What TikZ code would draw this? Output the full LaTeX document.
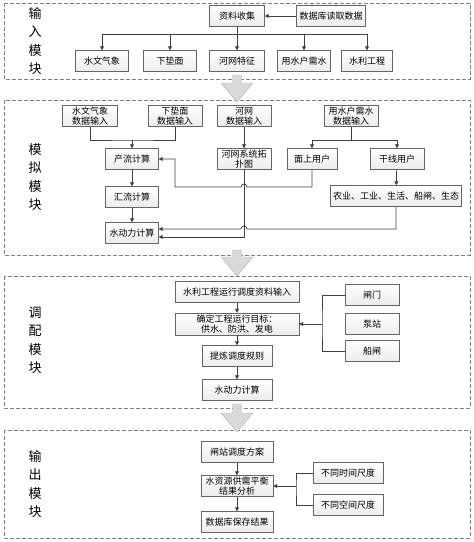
\documentclass[tikz,border=0pt]{standalone}
\usepackage{fontspec}
\setmainfont{Noto Sans CJK SC}
\usetikzlibrary{arrows.meta}
\usetikzlibrary{shadows}
\tikzset{>={Triangle[length=4pt,width=4pt]}}
\tikzset{box/.style={draw=gray!80!black, top color=white, bottom color=gray!15,
    drop shadow={shadow xshift=.8pt, shadow yshift=-.8pt, fill=gray!45},
    font=\fontsize{9}{10.5}\selectfont, align=center, inner sep=1pt, minimum height=21pt}}
\tikzset{part/.style={draw=gray, dash pattern=on 4pt off 2pt}}
\tikzset{link/.style={draw=gray!50!black, line width=.8pt}}
\tikzset{tag/.style={font=\fontsize{13}{18.5}\selectfont, align=center}}

\begin{document}
\begin{tikzpicture}[x=1pt, y=-1pt]
      \useasboundingbox (0,0) rectangle (474,542);
      % modules
      \draw[part] (4,3) rectangle (470,79);
      \draw[part] (4,100) rectangle (470,255);
      \draw[part] (4,276) rectangle (470,408);
      \draw[part] (4,430) rectangle (470,538);
      \node[tag] (inTag) at (35,41) {输\\入\\模\\块};
      \node[tag] (simTag) at (35,177) {模\\拟\\模\\块};
      \node[tag] (mixTag) at (35,340) {调\\配\\模\\块};
      \node[tag] (outTag) at (35,484) {输\\出\\模\\块};
      % big arrows
      \foreach \top/\tip in {75/102, 250/276, 404/432}
        \filldraw[draw=gray!60, fill=gray!30] (232.5,\top) -- (241.5,\top) -- (241.5,\tip-19)
          -- (253,\tip-19) -- (237,\tip) -- (221,\tip-19) -- (232.5,\tip-19) -- cycle;

      % input nodes
      \node[box, minimum width=55pt] (collect) at (237,16) {资料收集};
      \node[box, minimum width=69pt] (dbread) at (331,16) {数据库读取数据};
      \node[box, minimum width=53pt] (hydro) at (102,61) {水文气象};
      \node[box, minimum width=53pt] (surface) at (170,61) {下垫面};
      \node[box, minimum width=55pt] (river) at (237,61) {河网特征};
      \node[box, minimum width=53pt] (demand) at (304,61) {用水户需水};
      \node[box, minimum width=51pt] (project) at (367,61) {水利工程};
      % input lines
      \coordinate (bus1) at (237,34);
      \draw[link,->] (dbread) -- (collect);
      \draw[link] (collect) -- (bus1);
      \draw[link] (hydro |- bus1) -- (project |- bus1);
      \foreach \n in {hydro,surface,river,demand,project}
        \draw[link,->] (\n |- bus1) -- (\n);

      % simulation nodes
      \node[box, minimum width=55pt] (hydroIn) at (90,116) {水文气象\\数据输入};
      \node[box, minimum width=54pt] (surfIn) at (175,116) {下垫面\\数据输入};
      \node[box, minimum width=54pt] (riverIn) at (244,116) {河网\\数据输入};
      \node[box, minimum width=54pt] (demandIn) at (351,116) {用水户需水\\数据输入};
      \node[box, minimum width=53pt] (runoff) at (132,159) {产流计算};
      \node[box, minimum width=54pt] (topo) at (244,159) {河网系统拓\\扑图};
      \node[box, minimum width=50pt] (areaUser) at (312,159) {面上用户};
      \node[box, minimum width=54pt] (trunkUser) at (397,159) {干线用户};
      \node[box, minimum width=53pt] (confl) at (132,197) {汇流计算};
      \node[box, minimum width=131pt] (sectors) at (396,196) {农业、工业、生活、船闸、生态};
      \node[box, minimum width=53pt] (hydrodyn) at (132,233) {水动力计算};
      % simulation lines
      \coordinate (j1) at (132,140);
      \coordinate (j2) at (351,140);
      \draw[link] (hydroIn.south) |- (j1) -| (surfIn.south);
      \draw[link,->] (j1) -- (runoff);
      \draw[link,->] (riverIn) -- (topo);
      \draw[link] (demandIn) -- (j2);
      \draw[link,->] (j2) -| (areaUser);
      \draw[link,->] (j2) -| (trunkUser);
      \draw[link,->] (trunkUser) -- (sectors);
      \draw[link,->] (runoff) -- (confl);
      \draw[link,->] (confl) -- (hydrodyn);
      \draw[link,->] (areaUser.south) |- (247,187) arc (0:-180:3) -| (175,159) -- (runoff.east);
      \draw[link,->] (topo.south) |- ([yshift=-4pt]hydrodyn.east);
      \draw[link,->] (sectors.south) |- (247,229) arc (0:-180:3) -- ([yshift=4pt]hydrodyn.east);

      % dispatch nodes
      \node[box, minimum width=124pt] (projIn) at (237,292) {水利工程运行调度资料输入};
      \node[box, minimum width=124pt, minimum height=22pt] (target) at (237,324) {确定工程运行目标：\\供水、防洪、发电};
      \node[box, minimum width=70pt] (rules) at (237,356) {提炼调度规则};
      \node[box, minimum width=70pt] (hydrodyn2) at (237,390) {水动力计算};
      \node[box, minimum width=54pt] (gate) at (372,295) {闸门};
      \node[box, minimum width=54pt] (pump) at (372,324) {泵站};
      \node[box, minimum width=54pt] (lock) at (372,351) {船闸};
      % dispatch lines
      \coordinate (b3) at (322,324);
      \draw[link,->] (projIn) -- (target);
      \draw[link,->] (target) -- (rules);
      \draw[link,->] (rules) -- (hydrodyn2);
      \draw[link] (gate.west) -| (b3) |- (lock.west);
      \draw[link,->] (b3) -- (target.east);

      % output nodes
      \node[box, minimum width=72pt] (plan) at (237,452) {闸站调度方案};
      \node[box, minimum width=72pt] (balance) at (237,486) {水资源供需平衡\\结果分析};
      \node[box, minimum width=72pt] (save) at (237,522) {数据库保存结果};
      \node[box, minimum width=70pt] (timeScale) at (348,473) {不同时间尺度};
      \node[box, minimum width=70pt] (spaceScale) at (348,505) {不同空间尺度};
      % output lines
      \coordinate (b4) at (296,486);
      \draw[link,->] (plan) -- (balance);
      \draw[link,->] (balance) -- (save);
      \draw[link] (timeScale.west) -| (b4) |- (spaceScale.west);
      \draw[link,->] (b4) -- (balance.east);
\end{tikzpicture}
\end{document}
